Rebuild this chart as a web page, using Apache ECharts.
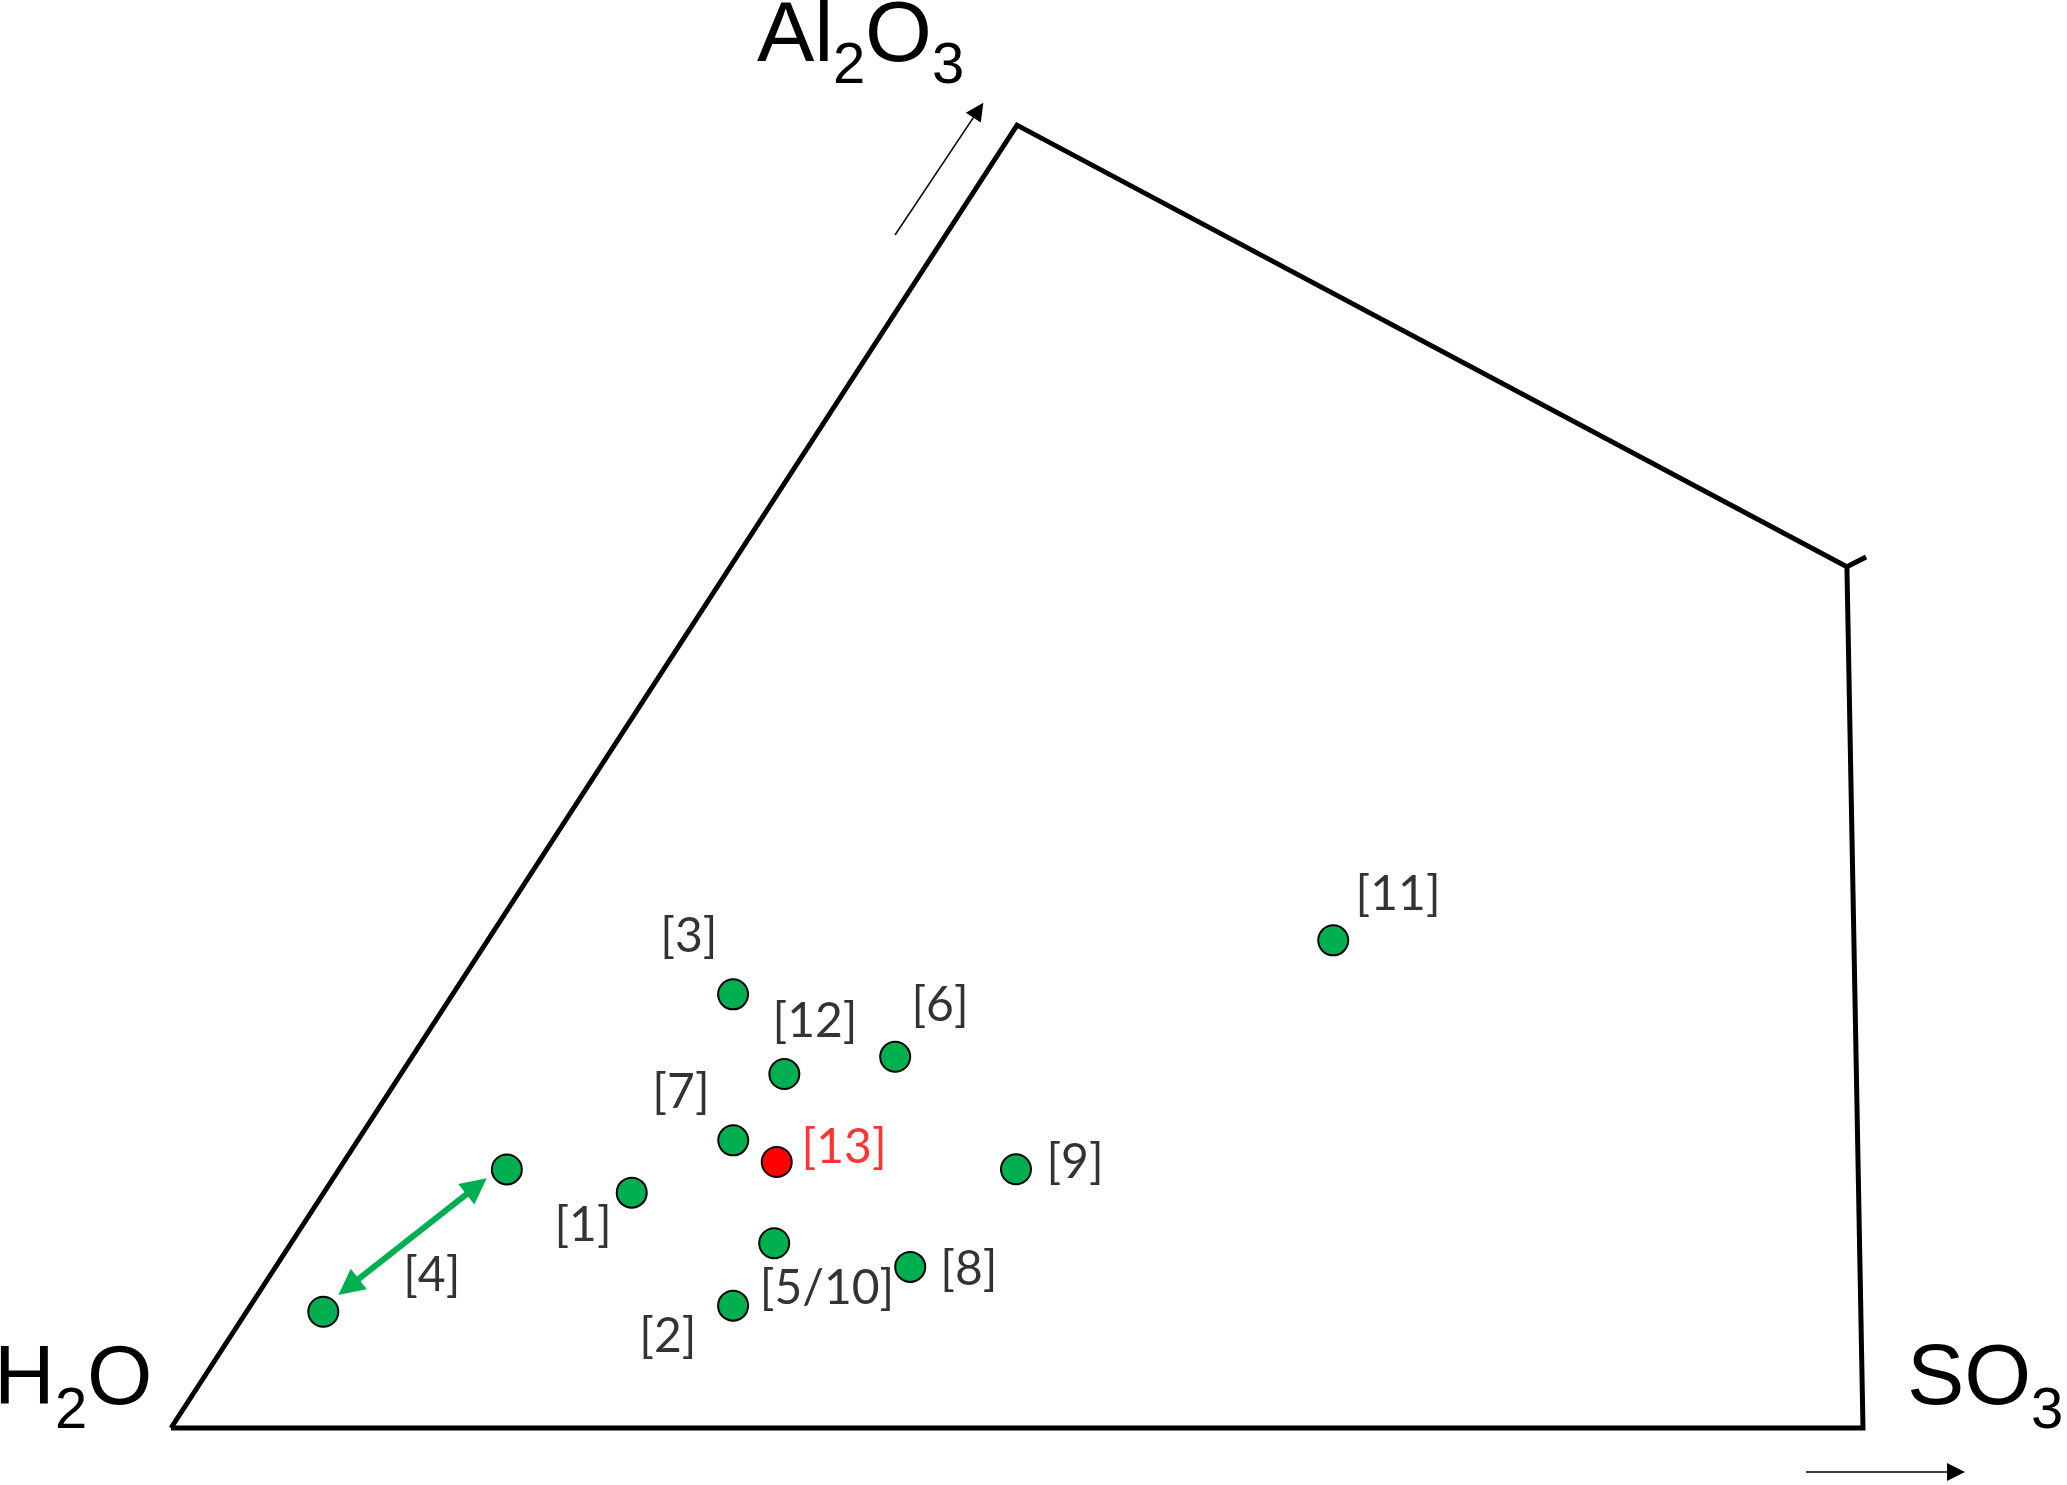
<!DOCTYPE html>
<html>
<head>
<meta charset="utf-8">
<script src="https://cdn.jsdelivr.net/npm/echarts@6/dist/echarts.min.js"></script>
<style>
  html, body { margin: 0; padding: 0; background: #ffffff; }
  #chart { width: 2067px; height: 1485px; }
</style>
</head>
<body>
<div id="chart"></div>
<script>
// ---------- DATA (diagram units: H2O corner = (0,0), SO3 corner = (100,0)) ----------
const outlineX = [0, 50, 99.05, 100, 0];
const outlineY = [0, 77, 50.9, 0, 0];
const cornerTickX = [99.05, 100.18];
const cornerTickY = [50.9, 51.48];

const pointNames = ['[1]', '[2]', '[3]', '[4] low', '[4] high', '[5/10]', '[6]', '[7]', '[8]', '[9]', '[11]', '[12]', '[13]'];
const pointX     = [27.23, 33.22, 33.22, 9.00, 19.85, 35.65, 42.80, 33.23, 43.69, 49.94, 68.69, 36.25, 35.80];
const pointY     = [13.91,  7.23, 25.63, 6.87, 15.28, 10.92, 21.94, 17.00,  9.52, 15.29, 28.82, 20.92, 15.72];
const highlightedPoints = ['[13]'];

const labelTexts = ['[1]', '[2]', '[3]', '[4]', '[5/10]', '[6]', '[7]', '[8]', '[9]', '[11]', '[12]', '[13]'];
const labelX     = [24.35, 29.37, 30.61, 15.41, 38.77, 45.45, 30.14, 47.16, 53.43, 72.52, 38.06, 39.78];
const labelY     = [11.94,  5.38, 29.02,  9.04,  8.22, 24.94, 19.80,  9.34, 15.72, 31.53, 24.05, 16.55];

// direction arrows: start point and arrow tip
const arrowAlFrom = [42.79, 70.51], arrowAlTip = [48.01, 78.33];
const arrowSoFrom = [96.63, -2.60], arrowSoTip = [106.03, -2.60];
const rangeTipA = [9.89, 7.86], rangeTipB = [18.66, 14.76];

// ---------- LAYOUT ----------
const W = 2067, H = 1485;
const UNIT = 16.92;            // px per diagram unit
const ORIGIN = [171, 1428];    // px position of the H2O corner
const xMin = -ORIGIN[0] / UNIT, xMax = (W - ORIGIN[0]) / UNIT;
const yMin = -(H - ORIGIN[1]) / UNIT, yMax = ORIGIN[1] / UNIT;

function pullBack(from, tip, px) {
  const dx = tip[0] - from[0], dy = tip[1] - from[1];
  const len = Math.hypot(dx, dy), d = px / UNIT;
  return [tip[0] - dx / len * d, tip[1] - dy / len * d];
}

const thinHead = 18, greenHead = 26;
const alEnd = pullBack(arrowAlFrom, arrowAlTip, thinHead / 2);
const soEnd = pullBack(arrowSoFrom, arrowSoTip, thinHead / 2);
const rgA = pullBack(rangeTipB, rangeTipA, greenHead / 2);
const rgB = pullBack(rangeTipA, rangeTipB, greenHead / 2);

const chart = echarts.init(document.getElementById('chart'), null, { renderer: 'canvas', width: W, height: H });

const GREEN = '#00B050';
const LABEL_FONT = 'Lato';
const AXIS_FONT = '"Liberation Sans", Arial, sans-serif';

function ttxt(text, x, y, size) {
  return { type: 'text', x: x, y: y, z: 100,
    style: { text: text, fontSize: size, fontFamily: AXIS_FONT, fill: '#000', align: 'left', verticalAlign: 'middle' } };
}

const option = {
  animation: false,
  backgroundColor: '#ffffff',
  grid: { left: 0, right: 0, top: 0, bottom: 0, containLabel: false },
  xAxis: { type: 'value', min: xMin, max: xMax, show: false },
  yAxis: { type: 'value', min: yMin, max: yMax, show: false },
  series: [
    {
      name: 'outline', type: 'line', silent: true, symbol: 'none', z: 2,
      data: outlineX.map((x, i) => [x, outlineY[i]]),
      lineStyle: { color: '#000', width: 5, join: 'miter' }
    },
    {
      name: 'corner tick', type: 'line', silent: true, symbol: 'none', z: 2,
      data: cornerTickX.map((x, i) => [x, cornerTickY[i]]),
      lineStyle: { color: '#000', width: 5 }
    },
    {
      name: 'Al2O3 arrow', type: 'lines', coordinateSystem: 'cartesian2d', silent: true, z: 3,
      symbol: ['none', 'triangle'], symbolSize: thinHead,
      lineStyle: { color: '#000', width: 1.5, opacity: 1 },
      data: [{ coords: [arrowAlFrom, alEnd] }]
    },
    {
      name: 'SO3 arrow', type: 'lines', coordinateSystem: 'cartesian2d', silent: true, z: 3,
      symbol: ['none', 'triangle'], symbolSize: thinHead,
      lineStyle: { color: '#000', width: 1.5, opacity: 1 },
      data: [{ coords: [arrowSoFrom, soEnd] }]
    },
    {
      name: '[4] range', type: 'lines', coordinateSystem: 'cartesian2d', silent: true, z: 3,
      symbol: ['triangle', 'triangle'], symbolSize: greenHead,
      lineStyle: { color: GREEN, width: 6, opacity: 1 },
      data: [{ coords: [rgA, rgB] }]
    },
    {
      name: 'points', type: 'scatter', z: 5, symbol: 'circle', symbolSize: 30,
      itemStyle: { color: GREEN, borderColor: '#000', borderWidth: 2, opacity: 1 },
      data: pointNames.map((n, i) => ({
        name: n, value: [pointX[i], pointY[i]],
        itemStyle: highlightedPoints.includes(n) ? { color: '#FF0000' } : undefined
      }))
    },
    {
      name: 'labels', type: 'scatter', z: 6, symbolSize: 1, silent: true,
      itemStyle: { color: 'rgba(0,0,0,0)' },
      label: { show: true, position: 'inside', formatter: '{b}', fontFamily: LABEL_FONT, fontSize: 48,
               color: '#000', align: 'center', verticalAlign: 'middle' },
      data: labelTexts.map((t, i) => ({
        name: t, value: [labelX[i], labelY[i]],
        label: highlightedPoints.includes(t) ? { color: '#FF0000' } : undefined
      }))
    }
  ],
  graphic: [
    ttxt('Al', 757, 37, 86), ttxt('2', 833, 67, 58), ttxt('O', 865, 37, 86), ttxt('3', 932, 67, 58),
    ttxt('H', -6, 1381, 84), ttxt('2', 55, 1412, 58), ttxt('O', 87, 1381, 84),
    ttxt('SO', 1907, 1380, 86), ttxt('3', 2031, 1412, 58)
  ]
};
chart.setOption(option);
</script>
</body>
</html>
